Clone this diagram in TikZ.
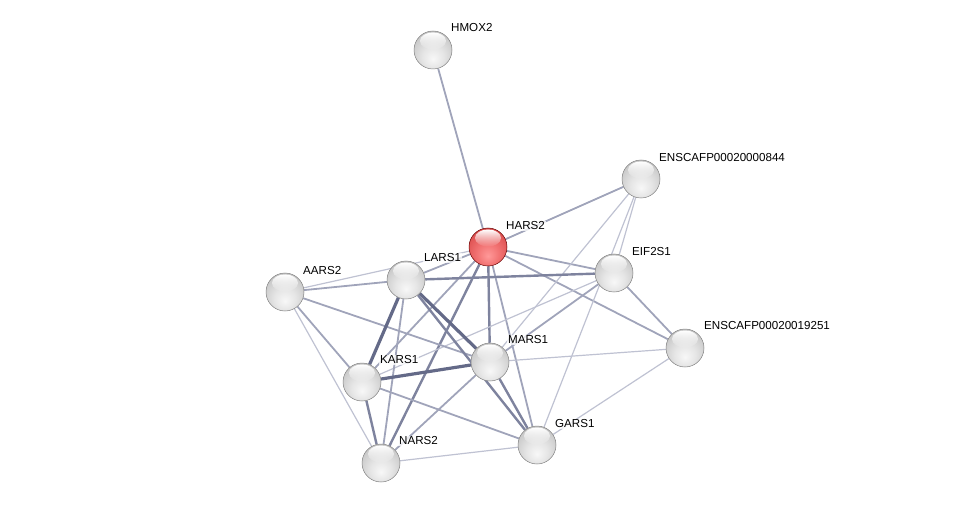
\documentclass[tikz,border=0pt]{standalone}
\usepackage{fontspec}
\setmainfont{Liberation Sans}
\usetikzlibrary{calc,fadings}
\pgfdeclarelayer{background}
\pgfsetlayers{background,main}
\definecolor{eThin}{HTML}{BFC2D2}
\definecolor{eMed}{HTML}{A0A4BA}
\definecolor{eDark}{HTML}{7E839E}
\definecolor{eBold}{HTML}{646A88}
\pgfdeclareradialshading{grayball}{\pgfpoint{0bp}{-12bp}}{%
  color(0bp)=(black!3); color(14bp)=(black!10); color(28bp)=(black!20);
  color(42bp)=(black!30); color(52bp)=(black!45); color(58bp)=(black!60); color(70bp)=(black!60)}
\pgfdeclareradialshading{redball}{\pgfpoint{0bp}{-12bp}}{%
  color(0bp)=(red!40!white); color(14bp)=(red!52!white!95!black); color(28bp)=(red!62!white!88!black);
  color(42bp)=(red!70!white!78!black); color(52bp)=(red!75!black); color(58bp)=(red!55!black); color(70bp)=(red!55!black)}
\tikzset{
  protein/.style={circle, minimum size=38pt, inner sep=0pt, shading=grayball, draw=black!50, line width=0.5pt},
  query/.style={circle, minimum size=38pt, inner sep=0pt, shading=redball, draw=red!40!black, line width=0.5pt},
  lbl/.style={anchor=west, font=\fontsize{11.6}{13}\selectfont, inner sep=1pt, fill=white, fill opacity=0.75, text opacity=1},
  e1/.style={draw=eThin, line width=1.2pt},
  e2/.style={draw=eMed, line width=1.8pt},
  e3/.style={draw=eDark, line width=2.4pt},
  e4/.style={draw=eBold, line width=3.2pt},
}
\newcommand{\gloss}[1]{\fill[white, path fading=south, opacity=1] ($(#1)+(0,-9)$) ellipse (13pt and 8.5pt);}
\begin{document}
\begin{tikzpicture}[x=1pt,y=-1pt]
\useasboundingbox (0,0) rectangle (975,508);
% nodes
\node[protein] (H)  at (433,50)  {};
\node[protein] (E8) at (641,179) {};
\node[query]   (HA) at (488,247) {};
\node[protein] (EI) at (614,273) {};
\node[protein] (A)  at (285,292) {};
\node[protein] (L)  at (406,280) {};
\node[protein] (E2) at (685,348) {};
\node[protein] (M)  at (490,362) {};
\node[protein] (K)  at (362,382) {};
\node[protein] (G)  at (537,445) {};
\node[protein] (N)  at (381,463) {};
\foreach \n in {H,E8,HA,EI,A,L,E2,M,K,G,N}{\gloss{\n}}
% labels
\node[lbl] (tH)  at ($(H)+(17,-22)$)  {HMOX2};
\node[lbl] (tE8) at ($(E8)+(17,-21)$) {ENSCAFP00020000844};
\node[lbl] (tHA) at ($(HA)+(17,-21)$) {HARS2};
\node[lbl] (tEI) at ($(EI)+(17,-21)$) {EIF2S1};
\node[lbl] (tA)  at ($(A)+(17,-21)$)  {AARS2};
\node[lbl] (tL)  at ($(L)+(17,-22)$)  {LARS1};
\node[lbl] (tE2) at ($(E2)+(18,-22)$) {ENSCAFP00020019251};
\node[lbl] (tM)  at ($(M)+(17,-22)$)  {MARS1};
\node[lbl] (tK)  at ($(K)+(17,-22)$)  {KARS1};
\node[lbl] (tG)  at ($(G)+(17,-21)$)  {GARS1};
\node[lbl] (tN)  at ($(N)+(17,-22)$)  {NARS2};
% edges
\begin{pgfonlayer}{background}
\path[e2] (H) -- (HA);
\path[e2] (HA) -- (E8);
\path[e2] (HA) -- (EI);
\path[e2] (HA) -- (E2);
\path[e2] (HA) -- (L);
\path[e1] (HA) -- (A);
\path[e3] (HA) -- (M);
\path[e2] (HA) -- (G);
\path[e3] (HA) -- (N);
\path[e2] (HA) -- (K);
\path[e1] (E8) -- (EI);
\path[e1] (E8) -- (G);
\path[e1] (E8) -- (M);
\path[e3] (L) -- (EI);
\path[e1] (EI) -- (K);
\path[e2] (EI) -- (M);
\path[e2] (EI) -- (E2);
\path[e1] (E2) -- (M);
\path[e1] (E2) -- (G);
\path[e2] (A) -- (L);
\path[e2] (A) -- (M);
\path[e2] (A) -- (K);
\path[e1] (A) -- (N);
\path[e4] (L) -- (K);
\path[e4] (L) -- (M);
\path[e3] (L) -- (G);
\path[e2] (L) -- (N);
\path[e4] (K) -- (M);
\path[e3] (K) -- (N);
\path[e2] (K) -- (G);
\path[e3] (M) -- (G);
\path[e2] (M) -- (N);
\path[e1] (N) -- (G);
\end{pgfonlayer}
\end{tikzpicture}
\end{document}
